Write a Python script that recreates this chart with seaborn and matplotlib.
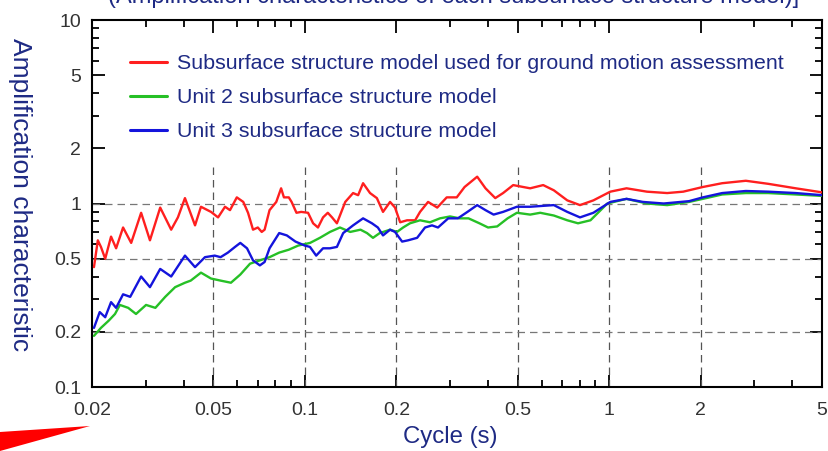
import numpy as np
import pandas as pd
import matplotlib.pyplot as plt
import matplotlib.ticker as mticker
from matplotlib.patches import Polygon
import seaborn as sns

# curves (period in s, amplification)
red_period = [0.0203, 0.0209, 0.0214, 0.0221, 0.0231, 0.0240, 0.0253, 0.0269, 0.0290, 0.0310,
              0.0335, 0.0364, 0.0383, 0.0404, 0.0436, 0.0456, 0.0492, 0.0519, 0.0547, 0.0568,
              0.0598, 0.0628, 0.0651, 0.0676, 0.0701, 0.0722, 0.0738, 0.0766, 0.0806, 0.0836,
              0.0854, 0.0886, 0.0905, 0.0939, 0.0973, 0.1025, 0.1065, 0.1105, 0.1148, 0.119,
              0.1229, 0.1275, 0.1358, 0.1441, 0.1497, 0.1554, 0.1638, 0.1725, 0.1807, 0.1906,
              0.1979, 0.2057, 0.2168, 0.2304, 0.2391, 0.2541, 0.2723, 0.2926, 0.3156, 0.3349,
              0.3684, 0.3923, 0.4224, 0.4481, 0.4837, 0.5218, 0.55, 0.6069, 0.6578, 0.7282,
              0.8017, 0.8871, 1.008, 1.14, 1.33, 1.55, 1.75, 2.03, 2.35, 2.81,
              3.33, 4.10, 5.0]
red_amp = [0.45, 0.63, 0.58, 0.50, 0.66, 0.57, 0.74, 0.61, 0.89, 0.63,
           0.95, 0.72, 0.84, 1.07, 0.76, 0.96, 0.90, 0.84, 0.96, 0.92,
           1.08, 1.02, 0.89, 0.72, 0.74, 0.70, 0.72, 0.92, 1.02, 1.21,
           1.08, 1.08, 1.02, 0.89, 0.90, 0.89, 0.78, 0.74, 0.84, 0.89,
           0.84, 0.78, 1.02, 1.14, 1.11, 1.29, 1.14, 1.07, 0.90, 1.02,
           0.95, 0.79, 0.81, 0.81, 0.90, 1.02, 0.95, 1.08, 1.08, 1.23,
           1.40, 1.21, 1.07, 1.14, 1.26, 1.23, 1.21, 1.26, 1.18, 1.04,
           0.98, 1.04, 1.16, 1.21, 1.16, 1.14, 1.16, 1.23, 1.29, 1.33,
           1.28, 1.21, 1.15]

green_period = [0.0203, 0.0214, 0.0227, 0.0238, 0.0247, 0.0263, 0.0279, 0.0301, 0.0323, 0.0348,
                0.0375, 0.0404, 0.0422, 0.0456, 0.0492, 0.0529, 0.0572, 0.0614, 0.0661, 0.0712,
                0.0766, 0.0824, 0.0886, 0.0952, 0.1041, 0.1121, 0.121, 0.1305, 0.1410, 0.1524,
                0.1601, 0.1675, 0.1763, 0.1906, 0.2009, 0.2104, 0.2216, 0.2391, 0.2578, 0.2780,
                0.300, 0.3229, 0.345, 0.3747, 0.400, 0.4286, 0.4636, 0.4975, 0.55, 0.5935,
                0.6578, 0.7282, 0.7898, 0.8677, 0.986, 1.14, 1.33, 1.55, 1.83, 2.03,
                2.35, 2.81, 3.33, 4.10, 5.0]
green_amp = [0.19, 0.21, 0.23, 0.25, 0.28, 0.27, 0.25, 0.28, 0.27, 0.31,
             0.35, 0.37, 0.38, 0.42, 0.39, 0.38, 0.37, 0.41, 0.47, 0.49,
             0.51, 0.54, 0.56, 0.59, 0.61, 0.65, 0.70, 0.74, 0.70, 0.72,
             0.69, 0.65, 0.69, 0.72, 0.70, 0.74, 0.78, 0.81, 0.79, 0.83,
             0.85, 0.83, 0.83, 0.78, 0.74, 0.75, 0.83, 0.89, 0.87, 0.89,
             0.86, 0.81, 0.78, 0.81, 1.00, 1.06, 1.00, 0.98, 1.02, 1.06,
             1.12, 1.14, 1.14, 1.12, 1.10]

blue_period = [0.0203, 0.0212, 0.0221, 0.0231, 0.0240, 0.0253, 0.0267, 0.0290, 0.0310, 0.0335,
               0.0364, 0.0404, 0.0436, 0.0470, 0.0506, 0.0529, 0.0559, 0.0590, 0.0614, 0.0646,
               0.0676, 0.0712, 0.0738, 0.0766, 0.0824, 0.0873, 0.0932, 0.100, 0.104, 0.109,
               0.1148, 0.121, 0.1275, 0.1337, 0.1441, 0.1554, 0.1662, 0.1738, 0.1807, 0.1906,
               0.1979, 0.2088, 0.2184, 0.2339, 0.2483, 0.2618, 0.2739, 0.2959, 0.3183, 0.3422,
               0.3684, 0.3923, 0.4171, 0.4481, 0.4975, 0.55, 0.6578, 0.7282, 0.8017, 0.8871,
               1.008, 1.14, 1.29, 1.51, 1.83, 2.03, 2.35, 2.81, 3.33, 4.10, 5.0]
blue_amp = [0.21, 0.256, 0.24, 0.29, 0.27, 0.32, 0.31, 0.40, 0.35, 0.44,
            0.40, 0.52, 0.45, 0.51, 0.52, 0.51, 0.54, 0.58, 0.61, 0.57,
            0.49, 0.46, 0.48, 0.57, 0.69, 0.67, 0.62, 0.59, 0.58, 0.52,
            0.57, 0.57, 0.58, 0.69, 0.76, 0.83, 0.78, 0.74, 0.67, 0.72,
            0.70, 0.62, 0.63, 0.65, 0.74, 0.76, 0.74, 0.83, 0.83, 0.90,
            0.98, 0.92, 0.87, 0.90, 0.96, 0.96, 0.98, 0.90, 0.84, 0.89,
            1.02, 1.06, 1.02, 1.00, 1.03, 1.08, 1.14, 1.17, 1.16, 1.14, 1.11]

labels = ["Subsurface structure model used for ground motion assessment",
          "Unit 2 subsurface structure model",
          "Unit 3 subsurface structure model"]
x_ticks = [0.02, 0.05, 0.1, 0.2, 0.5, 1, 2, 5]
x_tick_labels = ["0.02", "0.05", "0.1", "0.2", "0.5", "1", "2", "5"]
y_ticks = [0.1, 0.2, 0.5, 1, 2, 5, 10]
y_tick_labels = ["0.1", "0.2", "0.5", "1", "2", "5", "10"]
grid_x = [0.05, 0.1, 0.2, 0.5, 1, 2]
grid_y = [0.2, 0.5, 1]

df = pd.concat([
    pd.DataFrame({"period": red_period, "amp": red_amp, "model": labels[0]}),
    pd.DataFrame({"period": green_period, "amp": green_amp, "model": labels[1]}),
    pd.DataFrame({"period": blue_period, "amp": blue_amp, "model": labels[2]}),
])

navy = "#1e2a84"
palette = {labels[0]: "#ff1f1f", labels[1]: "#26c026", labels[2]: "#1414dc"}

sns.set_style("ticks")
plt.rcParams["font.family"] = ["Liberation Sans", "DejaVu Sans"]

fig = plt.figure(figsize=(8.29, 4.51), dpi=100)
ax = fig.add_axes([92 / 829, 64 / 451, 730 / 829, 367 / 451])

ax.set_xscale("log")
ax.set_yscale("log")
ax.set_xlim(0.02, 5)
ax.set_ylim(0.1, 10)

# dashed grid (vertical lines stop below the legend)
for gx in grid_x:
    ax.plot([gx, gx], [0.1, 1.62], color="#555555", lw=0.9, ls=(0, (6, 4)), zorder=1)
for gy in grid_y:
    ax.axhline(gy, color="#777777", lw=0.9, ls=(0, (6, 4)), zorder=1)

sns.lineplot(data=df, x="period", y="amp", hue="model", hue_order=labels,
             palette=palette, estimator=None, sort=True, lw=1.7, ax=ax, zorder=3)

ax.set_xticks(x_ticks)
ax.set_xticklabels(x_tick_labels)
ax.set_yticks(y_ticks)
ax.set_yticklabels(y_tick_labels)
ax.xaxis.set_minor_locator(mticker.LogLocator(base=10, subs=np.arange(2, 10)))
ax.yaxis.set_minor_locator(mticker.LogLocator(base=10, subs=np.arange(2, 10)))
ax.xaxis.set_minor_formatter(mticker.NullFormatter())
ax.yaxis.set_minor_formatter(mticker.NullFormatter())
ax.tick_params(which="both", direction="in", top=True, right=True, color="black", width=1.3)
ax.tick_params(which="major", length=9)
ax.tick_params(which="minor", length=5)
ax.tick_params(axis="x", which="major", labelsize=14, labelcolor="#333333", pad=10.5)
ax.tick_params(axis="y", which="major", labelsize=14, labelcolor="#333333", pad=8)
for s in ax.spines.values():
    s.set_linewidth(1.5)
    s.set_color("black")

ax.set_xlabel("")
ax.set_ylabel("")
fig.text(450 / 829, 1 - 437 / 451, "Cycle (s)", color=navy, fontsize=17.3, ha="center", va="center")
fig.text(20 / 829, 1 - 195 / 451, "Amplification characteristic", color=navy, fontsize=19,
         rotation=270, ha="center", va="center")

leg = ax.legend(loc="upper left", bbox_to_anchor=(0.052, 0.907), frameon=False,
                fontsize=15.4, labelcolor=navy, handlelength=1.73, handletextpad=0.47,
                labelspacing=0.7, borderpad=0, borderaxespad=0)
for h in leg.get_lines():
    h.set_linewidth(2.2)

# clipped heading at the very top (only the lower edge shows, as in the source)
fig.text(454 / 829, 1 - 3 / 451, "(Amplification characteristics of each subsurface structure model)]",
         color=navy, fontsize=17, ha="center", va="baseline")

# red wedge at the lower left corner
fig.patches.append(Polygon([(0, 1 - 432 / 451), (90 / 829, 1 - 426 / 451), (0, 0)],
                           closed=True, transform=fig.transFigure, facecolor="#ff0000",
                           edgecolor="none"))

fig.savefig("out.png", dpi=100)
